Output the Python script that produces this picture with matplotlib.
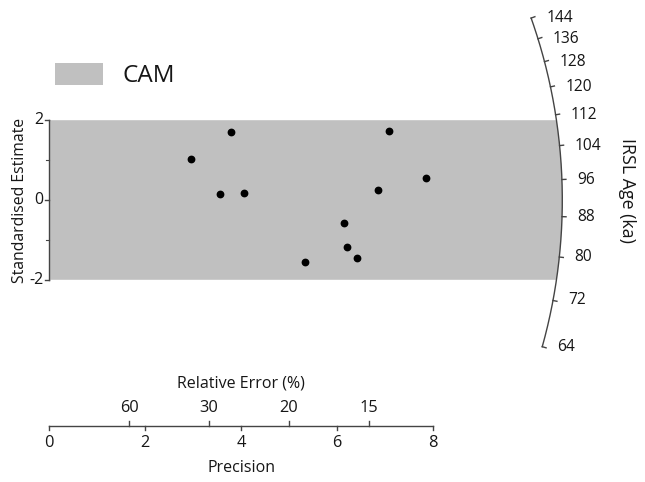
import numpy as np
import matplotlib
matplotlib.use("Agg")
import matplotlib.pyplot as plt
from matplotlib.patches import Polygon, Rectangle

plt.rcParams['font.family'] = ['Open Sans', 'DejaVu Sans']

# ---- data ----
precision = [2.95, 3.80, 3.57, 4.06, 5.34, 6.15, 6.21, 6.42, 6.86, 7.09, 7.86]
std_est = [1.03, 1.70, 0.16, 0.18, -1.55, -0.57, -1.18, -1.45, 0.26, 1.73, 0.55]
cam_age = 91.5
age_ticks = [64, 72, 80, 88, 96, 104, 112, 120, 128, 136, 144]
precision_ticks = [0, 2, 4, 6, 8]
rel_error_ticks = [60, 30, 20, 15]
y_ticks = [-2, 0, 2]
y_minor = [-1, 1]
band_limit = 2

# ---- layout (pixel mapping) ----
W, H = 645, 482
X0, PX = 49.3, 47.93   # origin x px, px per precision unit
Y0, PY = 200.0, 39.9   # zero y px (from top), px per std unit
RX, RY = 513.0, 530.0  # arc radii in px

TXT = '#161616'
LN = '#444444'
GREY = '#c0c0c0'

fig = plt.figure(figsize=(W / 100, H / 100), dpi=100)
ax = fig.add_axes([0, 0, 1, 1])
ax.axis('off')
ax.set_xlim(-X0 / PX, (W - X0) / PX)
ax.set_ylim((Y0 - H) / PY, Y0 / PY)


def dx(p):
    return p / PX


def dy(p):
    return p / PY


def yrow(py):
    return (Y0 - py) / PY


z0 = np.log(cam_age)


def arc_point(theta, extra=0.0):
    r = 1.0 / np.sqrt(np.cos(theta) ** 2 / RX ** 2 + np.sin(theta) ** 2 / RY ** 2) + extra
    return r * np.cos(theta) / PX, r * np.sin(theta) / PY


def theta_of(age):
    return np.arctan((np.log(age) - z0) * PY / PX)


# ---- grey band (±2) ----
th = np.linspace(-0.6, 0.6, 2000)
ax_pts = np.array([arc_point(t) for t in th])
mask = np.abs(ax_pts[:, 1]) <= band_limit
xe = RX * np.sqrt(1 - (band_limit * PY / RY) ** 2) / PX
poly = [(0, -band_limit), (xe, -band_limit)] + [tuple(p) for p in ax_pts[mask]] + [(xe, band_limit), (0, band_limit)]
ax.add_patch(Polygon(poly, closed=True, facecolor=GREY, edgecolor='none', zorder=1))

# ---- y axis ----
ax.plot([0, 0], [-band_limit, band_limit], color=LN, lw=1.0, zorder=3)
for t in y_ticks:
    ax.plot([-dx(4), 0], [t, t], color=LN, lw=1.0, zorder=3)
    ax.text(-dx(6), t, f'{t}', ha='right', va='center', fontsize=11.5, color=TXT)
for t in y_minor:
    ax.plot([-dx(3), 0], [t, t], color=LN, lw=0.8, zorder=3)
ax.text(-dx(29.5), 0, 'Standardised Estimate', rotation=90, ha='center', va='center',
        fontsize=11.3, color=TXT)

# ---- points ----
ax.plot(precision, std_est, 'o', color='black', markersize=4.6, zorder=5)

# ---- arc axis ----
t_lo, t_hi = theta_of(min(age_ticks)), theta_of(max(age_ticks))
tt = np.linspace(t_lo, t_hi, 400)
arc = np.array([arc_point(t) for t in tt])
ax.plot(arc[:, 0], arc[:, 1], color=LN, lw=1.0, zorder=4)
for a in age_ticks:
    t = theta_of(a)
    x1, y1 = arc_point(t)
    x2, y2 = arc_point(t, 4)
    ax.plot([x1, x2], [y1, y2], color=LN, lw=1.0, zorder=4)
    ax.text(x1 + dx(15), y1, f'{a}', ha='left', va='center', fontsize=11.2, color=TXT)
ax.text((627 - X0) / PX, yrow(190), 'IRSL Age (ka)', rotation=-90, ha='center', va='center',
        fontsize=12.8, color=TXT)

# ---- precision / relative error axis ----
ya = yrow(426)
ax.plot([precision_ticks[0], precision_ticks[-1]], [ya, ya], color=LN, lw=1.0)
for p in precision_ticks:
    ax.plot([p, p], [ya, ya - dy(4)], color=LN, lw=1.0)
    ax.text(p, yrow(443), f'{p}', ha='center', va='center', fontsize=11.8, color=TXT)
for r in rel_error_ticks:
    p = 100.0 / r
    ax.plot([p, p], [ya, ya + dy(5)], color=LN, lw=1.0)
    ax.text(p, yrow(408), f'{r}', ha='center', va='center', fontsize=11.8, color=TXT)
ax.text(4, yrow(384), 'Relative Error (%)', ha='center', va='center', fontsize=11.5, color=TXT)
ax.text(4, yrow(468), 'Precision', ha='center', va='center', fontsize=11.5, color=TXT)

# ---- legend ----
ax.add_patch(Rectangle((dx(55 - X0), yrow(85)), dx(48), dy(22), facecolor=GREY, edgecolor='none'))
ax.text(dx(123 - X0), yrow(76), 'CAM', ha='left', va='center', fontsize=17.5, color=TXT)

fig.savefig('out.png', dpi=100)
